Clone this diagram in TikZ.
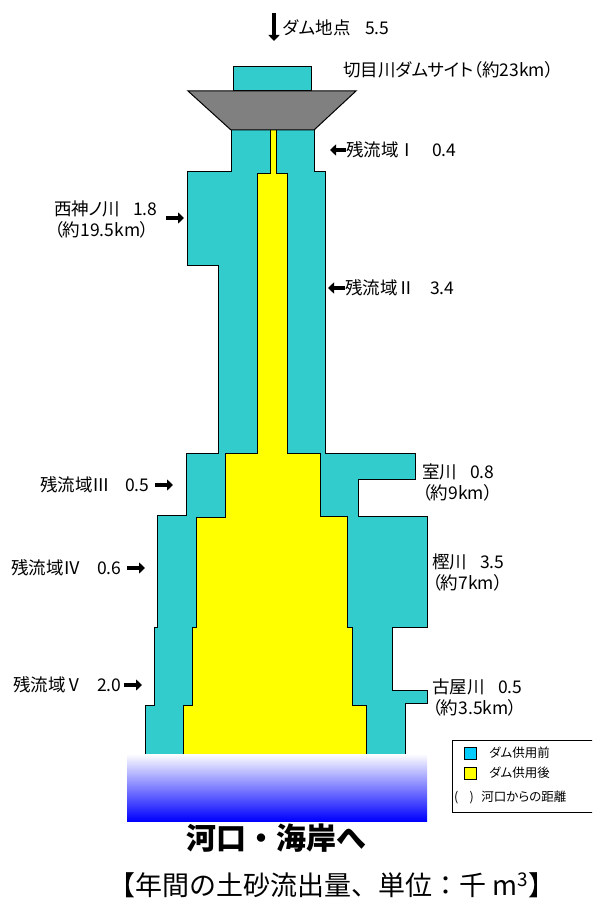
\documentclass[tikz,border=0pt]{standalone}
\usepackage{fontspec}
\setmainfont{Noto Sans CJK JP}[RawFeature=+palt]
\newfontfamily\plainjp{Noto Sans CJK JP}
\usetikzlibrary{arrows.meta}
\definecolor{sand}{HTML}{FFFF00}
\definecolor{river}{HTML}{33CCCC}
\definecolor{sky}{HTML}{00CCFF}
\definecolor{damgray}{HTML}{808080}

\begin{document}
\begin{tikzpicture}
  [x=1pt,y=-1pt,
  lbl/.style={anchor=west,inner sep=0pt,font=\fontsize{17.5}{21}\selectfont,align=left},
  keytext/.style={anchor=west,inner sep=0pt,font=\fontsize{12.5}{14}\selectfont},
  flow/.style={-{Triangle[length=6pt,width=11pt]},line width=3.5pt},
  before/.style={fill=river,draw=black,line width=1pt},
  after/.style={fill=sand,draw=black,line width=1pt},
  keybox/.style={draw=black,line width=0.8pt,minimum size=12pt,inner sep=0pt}]

  \useasboundingbox (0,0) rectangle (592,904);
  \clip (0,0) rectangle (592,904);

  \draw [before] (231,130) -- (231,172) -- (187,172) -- (187,265) -- (218,265) -- (218,453)
    -- (186,453) -- (186,515) -- (157,515) -- (157,627) -- (154,627) -- (154,705)
    -- (145,705) -- (145,754) -- (405,754) -- (405,703) -- (427,703) -- (427,690)
    -- (392,690) -- (392,627) -- (427,627) -- (427,516) -- (358,516) -- (358,479)
    -- (415,479) -- (415,453) -- (325,453) -- (325,172) -- (314,172) -- (314,130) -- cycle;
  \draw [after] (270,130) -- (270,174) -- (257,174) -- (257,453) -- (225,453) -- (225,517)
    -- (196,517) -- (196,627) -- (192,627) -- (192,705) -- (183,705) -- (183,754)
    -- (366,754) -- (366,705) -- (352,705) -- (352,627) -- (347,627) -- (347,516)
    -- (320,516) -- (320,453) -- (287,453) -- (287,174) -- (276,174) -- (276,130) -- cycle;

  \draw [before] (233,91) rectangle (311,67);
  \draw [fill=damgray,draw=black,line width=1pt] (188,91) -- (356,91) -- (314,130) -- (231,130) -- cycle;

  \shade [top color=white,bottom color=blue] (127,754) rectangle (427,821);

  \node (dam) [lbl] at (283,28) {ダム地点};
  \node (damv) [lbl] at (365,28) {5.5};
  \coordinate (damtop) at (274,13);
  \coordinate (damend) at (274,41);
  \draw [flow] (damtop) -- (damend);

  \node (site) [lbl] at (343,70) {切目川ダムサイト（約23km）};

  \node (r1) [lbl] at (346,150) {残流域Ⅰ};
  \node (r1v) [lbl] at (432,150) {0.4};
  \coordinate (r1a) at (346,150);
  \coordinate (r1b) at (330,150);
  \draw [flow] (r1a) -- (r1b);

  \node (nishi) [lbl] at (54,219) {西神ノ川\\（約19.5km）};
  \node (nishiv) [lbl] at (133,209) {1.8};
  \coordinate (nishia) at (166,218);
  \coordinate (nishib) at (184,218);
  \draw [flow] (nishia) -- (nishib);

  \node (r2) [lbl] at (345,288) {残流域Ⅱ};
  \node (r2v) [lbl] at (430,288) {3.4};
  \coordinate (r2a) at (345,288);
  \coordinate (r2b) at (328,288);
  \draw [flow] (r2a) -- (r2b);

  \node (r3) [lbl] at (40,485) {残流域Ⅲ};
  \node (r3v) [lbl] at (125,485) {0.5};
  \coordinate (r3a) at (155,485);
  \coordinate (r3b) at (173,485);
  \draw [flow] (r3a) -- (r3b);

  \node (r4) [lbl] at (11,568) {残流域Ⅳ};
  \node (r4v) [lbl] at (97,568) {0.6};
  \coordinate (r4a) at (127,568);
  \coordinate (r4b) at (145,568);
  \draw [flow] (r4a) -- (r4b);

  \node (r5) [lbl] at (13,685) {残流域Ⅴ};
  \node (r5v) [lbl] at (97,685) {2.0};
  \coordinate (r5a) at (124,685);
  \coordinate (r5b) at (142,685);
  \draw [flow] (r5a) -- (r5b);

  \node (muro) [lbl] at (422,482) {室川\\（約9km）};
  \node (murov) [lbl] at (470,472) {0.8};
  \node (kashi) [lbl] at (432,572) {樫川\\（約7km）};
  \node (kashiv) [lbl] at (480,562) {3.5};
  \node (furuya) [lbl] at (432,697) {古屋川\\（約3.5km）};
  \node (furuyav) [lbl] at (498,687) {0.5};

  \node (mouth) [font=\plainjp\fontsize{30}{30}\selectfont\bfseries] at (276,838) {河口・海岸へ};
  \node (unit) [font=\plainjp\fontsize{27}{27}\selectfont] at (332,885) {【年間の土砂流出量、単位：千 m\textsuperscript{3}】};

  \draw [line width=0.8pt] (452,740) rectangle (610,812);
  \node (k1) [keybox,fill=sky] at (470,753) {};
  \node (k1t) [keytext] at (489,753) {ダム供用前};
  \node (k2) [keybox,fill=sand] at (470,773) {};
  \node (k2t) [keytext] at (489,773) {ダム供用後};
  \node (k3t) [keytext] at (454,797) {(\hspace{0.9em})\hspace{0.6em}河口からの距離};

\end{tikzpicture}
\end{document}
